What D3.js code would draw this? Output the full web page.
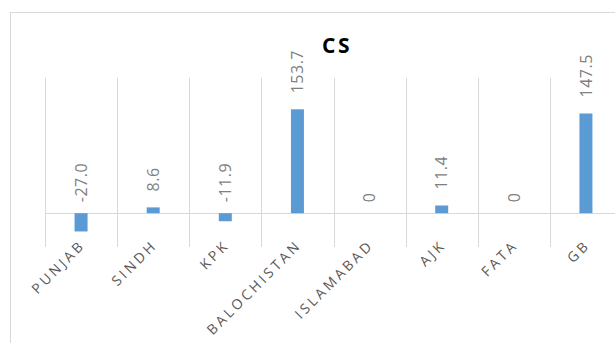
<!DOCTYPE html>
<html>
<head>
<meta charset="utf-8">
<script src="https://cdn.jsdelivr.net/npm/d3@7"></script>
<style>
	body { margin: 0; background: #fff; }
	text { font-family: "Open Sans", "Liberation Sans", sans-serif; }
</style>
</head>
<body>
<div id="chart"></div>
<script>
// chart data
const categories = ["PUNJAB", "SINDH", "KPK", "BALOCHISTAN", "ISLAMABAD", "AJK", "FATA", "GB"];
const values = [-27.0, 8.6, -11.9, 153.7, 0, 11.4, 0, 147.5];
const labels = ["-27.0", "8.6", "-11.9", "153.7", "0", "11.4", "0", "147.5"];
const yDomain = [-50, 200];

const w = 615;
const h = 343;

const svg = d3.select("#chart")
	.append("svg")
	.attr("width", w)
	.attr("height", h);

// outer chart border (runs off the right and bottom edge)
svg.append("rect")
	.attr("x", 10.5)
	.attr("y", 12.5)
	.attr("width", 700)
	.attr("height", 400)
	.attr("fill", "none")
	.attr("stroke", "#d9d9d9");

const x = d3.scaleBand()
	.domain(categories)
	.range([45, 622]);

const y = d3.scaleLinear()
	.domain(yDomain)
	.range([247, 78]);

// category gridlines
const edges = categories.map(c => x(c)).concat([x.range()[1]]);
svg.selectAll("line.grid")
	.data(edges)
	.enter()
	.append("line")
	.attr("class", "grid")
	.attr("x1", d => Math.round(d) + 0.5)
	.attr("x2", d => Math.round(d) + 0.5)
	.attr("y1", y(yDomain[1]))
	.attr("y2", y(yDomain[0]))
	.attr("stroke", "#d9d9d9");

// zero line
svg.append("line")
	.attr("x1", x.range()[0])
	.attr("x2", x.range()[1])
	.attr("y1", Math.round(y(0)) + 0.5)
	.attr("y2", Math.round(y(0)) + 0.5)
	.attr("stroke", "#d9d9d9");

const barW = 13;
svg.selectAll("rect.bar")
	.data(values)
	.enter()
	.append("rect")
	.attr("class", "bar")
	.attr("x", (d, i) => x(categories[i]) + x.bandwidth() / 2 - barW / 2)
	.attr("y", d => Math.min(y(d), y(0)))
	.attr("width", barW)
	.attr("height", d => Math.abs(y(d) - y(0)))
	.attr("fill", "#5b9bd5");

// data labels, rotated; positives sit above the bar, the rest above the zero line
svg.selectAll("text.val")
	.data(values)
	.enter()
	.append("text")
	.attr("class", "val")
	.attr("transform", (d, i) => {
		const cx = x(categories[i]) + x.bandwidth() / 2;
		const cy = d > 0 ? y(d) - 16 : y(0) - 11;
		return `translate(${cx},${cy}) rotate(-90)`;
	})
	.attr("dy", "0.36em")
	.attr("font-size", 16)
	.attr("letter-spacing", 0.5)
	.attr("fill", "#7f7f7f")
	.text((d, i) => labels[i]);

// category labels
svg.selectAll("text.cat")
	.data(categories)
	.enter()
	.append("text")
	.attr("class", "cat")
	.attr("transform", d => `translate(${x(d) + x.bandwidth() / 2 + 5},${246}) rotate(-45)`)
	.attr("text-anchor", "end")
	.attr("font-size", 14)
	.attr("letter-spacing", 3)
	.attr("fill", "#595959")
	.text(d => d);

// title
svg.append("text")
	.attr("x", 337)
	.attr("y", 53)
	.attr("text-anchor", "middle")
	.attr("font-size", 21)
	.attr("font-weight", "bold")
	.attr("letter-spacing", 2.5)
	.attr("fill", "#000")
	.text("CS");
</script>
</body>
</html>
